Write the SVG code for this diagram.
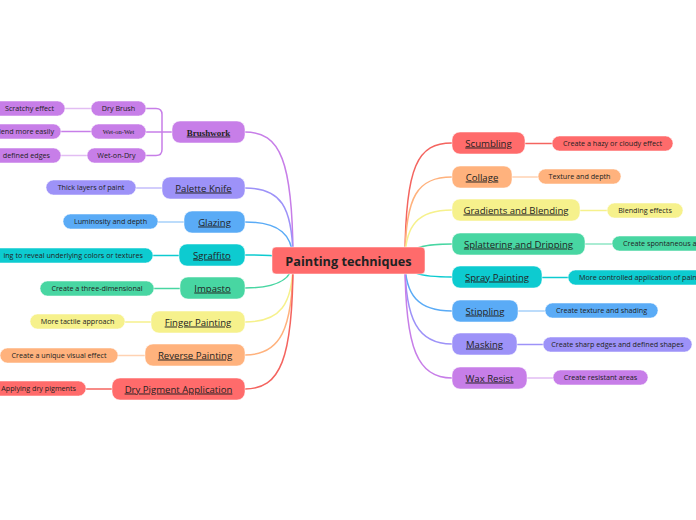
<svg xmlns="http://www.w3.org/2000/svg" width="696" height="520" viewBox="0 0 696 520">
<style>
.t{font-family:"Open Sans","Noto Sans",sans-serif;fill:#222;}
.m{font-size:9.6px;text-decoration:underline;text-anchor:middle;}
.c{font-size:7.2px;text-anchor:middle;}
.ce{font-size:7.2px;text-anchor:end;}
.cs{font-size:7.2px;text-anchor:start;}
.s{font-family:"Liberation Serif",serif;fill:#222;}
.n{stroke:#fff;stroke-opacity:0.5;stroke-width:1;}
.l{fill:none;stroke-width:1.5;}
</style>
<rect width="696" height="520" fill="#fff"/>
<g id="connectors">
  <path class="l" stroke="#F4645F" d="M405,261 C405,165 418,143 452,143"/>
  <path class="l" stroke="#FFB27D" d="M405,261 C405,195 418,177 452,177"/>
  <path class="l" stroke="#F6F18C" d="M405,261 C405,225 418,210 452,210"/>
  <path class="l" stroke="#48D6A2" d="M405,261 C405,250 418,244 452,244"/>
  <path class="l" stroke="#0DCBD0" d="M405,261 C405,272 418,277 452,277"/>
  <path class="l" stroke="#5AABF6" d="M405,261 C405,295 418,311 452,311"/>
  <path class="l" stroke="#9D92F8" d="M405,261 C405,320 418,344 452,344"/>
  <path class="l" stroke="#C77EE8" d="M405,261 C405,350 418,378 452,378"/>
  <path class="l" stroke="#C77EE8" d="M293,261 C293,160 280,132 245,132"/>
  <path class="l" stroke="#9D92F8" d="M293,261 C293,205 280,188 245,188"/>
  <path class="l" stroke="#5AABF6" d="M293,261 C293,235 280,222 245,222"/>
  <path class="l" stroke="#0DCBD0" d="M293,261 C290,257 280,255 245,255"/>
  <path class="l" stroke="#48D6A2" d="M293,261 C293,278 280,288 245,288"/>
  <path class="l" stroke="#F6F18C" d="M293,261 C293,305 280,322 245,322"/>
  <path class="l" stroke="#FFB27D" d="M293,261 C293,330 280,355 245,355"/>
  <path class="l" stroke="#F4645F" d="M293,261 C293,360 280,389 245,389"/>
  <path class="l" stroke="#F4645F" d="M525,143.5 H552"/>
  <path class="l" stroke="#FFD2B2" d="M512,177 H538"/>
  <path class="l" stroke="#F6F18C" d="M580,210.5 H607"/>
  <path class="l" stroke="#8EE6C4" d="M585,244 H612"/>
  <path class="l" stroke="#0DCBD0" d="M542,277.5 H568"/>
  <path class="l" stroke="#A6D0FA" d="M518,311 H545"/>
  <path class="l" stroke="#9D92F8" d="M517,344.5 H543"/>
  <path class="l" stroke="#E2BDF3" d="M527,378 H553"/>
  <path class="l" stroke="#C3BDFB" d="M162,188 H136"/>
  <path class="l" stroke="#A6D0FA" d="M184,222 H158"/>
  <path class="l" stroke="#0DCBD0" d="M179,255.5 H153"/>
  <path class="l" stroke="#48D6A2" d="M180,288.5 H154"/>
  <path class="l" stroke="#F6F18C" d="M151,322 H125"/>
  <path class="l" stroke="#FFD2B2" d="M145,355.5 H118"/>
  <path class="l" stroke="#F4645F" d="M112,389 H86"/>
  <path class="l" stroke="#C77EE8" d="M172,132 H146"/>
  <path class="l" stroke="#C77EE8" d="M146,108.5 H156 Q162,108.5 162,114.5 V149.5 Q162,155.5 156,155.5 H146"/>
  <path class="l" stroke="#E2BDF3" d="M91,108.5 H65"/>
  <path class="l" stroke="#C77EE8" d="M91,131.5 H61"/>
  <path class="l" stroke="#E2BDF3" d="M87,155.5 H61"/>
</g>
<g id="center">
  <rect class="n" x="272" y="247" width="153" height="27" rx="4" fill="#FF6B6B"/>
  <text class="t" x="348.5" y="265.5" font-size="12.7" font-weight="bold" text-anchor="middle">Painting techniques</text>
</g>
<g id="scumbling">
  <rect class="n" x="452" y="132" width="73" height="22" rx="8" fill="#FF6B6B"/>
  <text class="t m" x="488.5" y="146.5">Scumbling</text>
  <rect class="n" x="552" y="136" width="121" height="15" rx="7.5" fill="#FF6B6B"/>
  <text class="t c" x="612.5" y="146">Create a hazy or cloudy effect</text>
</g>
<g id="collage">
  <rect class="n" x="452" y="166" width="60" height="22" rx="8" fill="#FFB27D"/>
  <text class="t m" x="482" y="180.5">Collage</text>
  <rect class="n" x="538" y="169" width="83" height="15" rx="7.5" fill="#FFB27D"/>
  <text class="t c" x="579.5" y="179">Texture and depth</text>
</g>
<g id="gradients">
  <rect class="n" x="452" y="199" width="128" height="22" rx="8" fill="#F6F18C"/>
  <text class="t m" x="516" y="213.5">Gradients and Blending</text>
  <rect class="n" x="607" y="203" width="76" height="15" rx="7.5" fill="#F6F18C"/>
  <text class="t c" x="645" y="213">Blending effects</text>
</g>
<g id="splattering">
  <rect class="n" x="452" y="233" width="133" height="22" rx="8" fill="#48D6A2"/>
  <text class="t m" x="518.5" y="247.5">Splattering and Dripping</text>
  <rect class="n" x="612" y="236" width="120" height="15" rx="7.5" fill="#48D6A2"/>
  <text class="t cs" x="623" y="246">Create spontaneous a</text>
</g>
<g id="spray">
  <rect class="n" x="452" y="266" width="90" height="22" rx="8" fill="#0DCBD0"/>
  <text class="t m" x="497" y="280.5">Spray Painting</text>
  <rect class="n" x="568" y="270" width="160" height="15" rx="7.5" fill="#0DCBD0"/>
  <text class="t cs" x="579" y="280">More controlled application of pain</text>
</g>
<g id="stippling">
  <rect class="n" x="452" y="300" width="66" height="22" rx="8" fill="#5AABF6"/>
  <text class="t m" x="485" y="314.5">Stippling</text>
  <rect class="n" x="545" y="303" width="113" height="15" rx="7.5" fill="#5AABF6"/>
  <text class="t c" x="601.5" y="313">Create texture and shading</text>
</g>
<g id="masking">
  <rect class="n" x="452" y="333" width="65" height="22" rx="8" fill="#9D92F8"/>
  <text class="t m" x="484.5" y="347.5">Masking</text>
  <rect class="n" x="543" y="337" width="149" height="15" rx="7.5" fill="#9D92F8"/>
  <text class="t c" x="617.5" y="347">Create sharp edges and defined shapes</text>
</g>
<g id="wax">
  <rect class="n" x="452" y="367" width="75" height="22" rx="8" fill="#C77EE8"/>
  <text class="t m" x="489.5" y="381.5">Wax Resist</text>
  <rect class="n" x="553" y="370" width="95" height="15" rx="7.5" fill="#C77EE8"/>
  <text class="t c" x="600.5" y="380">Create resistant areas</text>
</g>
<g id="brushwork">
  <rect class="n" x="172" y="121" width="73" height="22" rx="8" fill="#C77EE8"/>
  <text class="s" x="208.5" y="135.5" font-size="9" font-weight="bold" text-anchor="middle" text-decoration="underline">Brushwork</text>
</g>
<g id="dry-brush">
  <rect class="n" x="91" y="101" width="55" height="15" rx="7.5" fill="#C77EE8"/>
  <text class="t c" x="118.5" y="111">Dry Brush</text>
  <rect class="n" x="-10" y="101" width="75" height="15" rx="7.5" fill="#C77EE8"/>
  <text class="t c" x="29.5" y="111">Scratchy effect</text>
</g>
<g id="wet-on-wet">
  <rect class="n" x="91" y="124" width="55" height="15" rx="7.5" fill="#C77EE8"/>
  <text class="s" x="118.5" y="134" font-size="6.5" text-anchor="middle">Wet-on-Wet</text>
  <rect class="n" x="-20" y="124" width="81" height="15" rx="7.5" fill="#C77EE8"/>
  <text class="t ce" x="54" y="134">lend more easily</text>
</g>
<g id="wet-on-dry">
  <rect class="n" x="87" y="148" width="59" height="15" rx="7.5" fill="#C77EE8"/>
  <text class="t c" x="116.5" y="158">Wet-on-Dry</text>
  <rect class="n" x="-20" y="148" width="81" height="15" rx="7.5" fill="#C77EE8"/>
  <text class="t ce" x="50" y="158">defined edges</text>
</g>
<g id="palette-knife">
  <rect class="n" x="162" y="177" width="83" height="22" rx="8" fill="#9D92F8"/>
  <text class="t m" x="203.5" y="191.5">Palette Knife</text>
  <rect class="n" x="46" y="180" width="90" height="15" rx="7.5" fill="#9D92F8"/>
  <text class="t c" x="91" y="190">Thick layers of paint</text>
</g>
<g id="glazing">
  <rect class="n" x="184" y="211" width="61" height="22" rx="8" fill="#5AABF6"/>
  <text class="t m" x="214.5" y="225.5">Glazing</text>
  <rect class="n" x="63" y="214" width="95" height="15" rx="7.5" fill="#5AABF6"/>
  <text class="t c" x="110.5" y="224">Luminosity and depth</text>
</g>
<g id="sgraffito">
  <rect class="n" x="179" y="244" width="66" height="22" rx="8" fill="#0DCBD0"/>
  <text class="t m" x="212" y="258.5">Sgraffito</text>
  <rect class="n" x="-30" y="248" width="183" height="15" rx="7.5" fill="#0DCBD0"/>
  <text class="t ce" x="143" y="258">ing to reveal underlying colors or textures</text>
</g>
<g id="impasto">
  <rect class="n" x="180" y="277" width="65" height="22" rx="8" fill="#48D6A2"/>
  <text class="t m" x="212.5" y="291.5">Impasto</text>
  <rect class="n" x="40" y="281" width="114" height="15" rx="7.5" fill="#48D6A2"/>
  <text class="t c" x="97" y="291">Create a three-dimensional</text>
</g>
<g id="finger-painting">
  <rect class="n" x="151" y="311" width="94" height="22" rx="8" fill="#F6F18C"/>
  <text class="t m" x="198" y="325.5">Finger Painting</text>
  <rect class="n" x="30" y="314" width="95" height="15" rx="7.5" fill="#F6F18C"/>
  <text class="t c" x="77.5" y="324">More tactile approach</text>
</g>
<g id="reverse-painting">
  <rect class="n" x="145" y="344" width="100" height="22" rx="8" fill="#FFB27D"/>
  <text class="t m" x="195" y="358.5">Reverse Painting</text>
  <rect class="n" x="0" y="348" width="118" height="15" rx="7.5" fill="#FFB27D"/>
  <text class="t c" x="59" y="358">Create a unique visual effect</text>
</g>
<g id="dry-pigment">
  <rect class="n" x="112" y="378" width="133" height="22" rx="8" fill="#FF6B6B"/>
  <text class="t m" x="178.5" y="392.5">Dry Pigment Application</text>
  <rect class="n" x="-20" y="381" width="106" height="15" rx="7.5" fill="#FF6B6B"/>
  <text class="t ce" x="76" y="391">Applying dry pigments</text>
</g>
</svg>
